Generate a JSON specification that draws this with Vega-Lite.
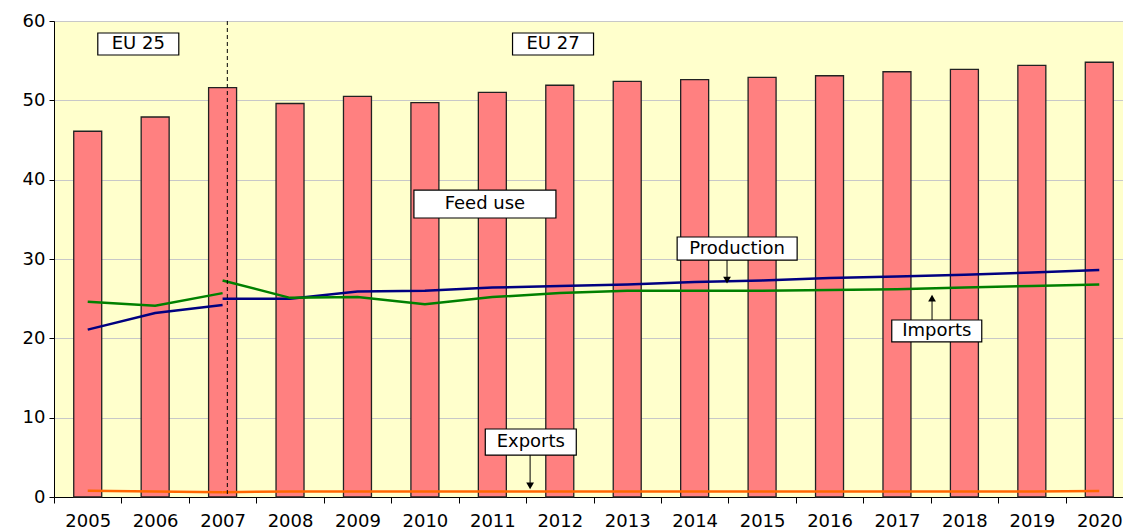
{
  "$schema": "https://vega.github.io/schema/vega-lite/v6.json",
  "width": 1069,
  "height": 476,
  "autosize": "none",
  "padding": {"left": 54, "top": 21, "right": 0, "bottom": 34},
  "background": "white",
  "config": {
    "font": "DejaVu Sans",
    "view": {"fill": "#FFFFCC", "stroke": "#999999", "strokeWidth": 1},
    "axis": {"labelFont": "DejaVu Sans", "labelColor": "black", "labelFontSize": 18, "domainColor": "black", "tickColor": "black", "title": null}
  },
  "datasets": {
    "feed": [
      {"year": 2005, "feed": 46.1}, {"year": 2006, "feed": 47.9}, {"year": 2007, "feed": 51.6},
      {"year": 2008, "feed": 49.6}, {"year": 2009, "feed": 50.5}, {"year": 2010, "feed": 49.7},
      {"year": 2011, "feed": 51.0}, {"year": 2012, "feed": 51.9}, {"year": 2013, "feed": 52.4},
      {"year": 2014, "feed": 52.6}, {"year": 2015, "feed": 52.9}, {"year": 2016, "feed": 53.1},
      {"year": 2017, "feed": 53.6}, {"year": 2018, "feed": 53.9}, {"year": 2019, "feed": 54.4},
      {"year": 2020, "feed": 54.8}
    ],
    "lines": [
      {"year": 2005, "series": "Production", "region": "EU25", "value": 21.1},
      {"year": 2006, "series": "Production", "region": "EU25", "value": 23.2},
      {"year": 2007, "series": "Production", "region": "EU25", "value": 24.2},
      {"year": 2005, "series": "Imports", "region": "EU25", "value": 24.6},
      {"year": 2006, "series": "Imports", "region": "EU25", "value": 24.1},
      {"year": 2007, "series": "Imports", "region": "EU25", "value": 25.7},
      {"year": 2005, "series": "Exports", "region": "EU25", "value": 0.8},
      {"year": 2006, "series": "Exports", "region": "EU25", "value": 0.7},
      {"year": 2007, "series": "Exports", "region": "EU25", "value": 0.6},
      {"year": 2007, "series": "Production", "region": "EU27", "value": 25.0},
      {"year": 2008, "series": "Production", "region": "EU27", "value": 25.0},
      {"year": 2009, "series": "Production", "region": "EU27", "value": 25.9},
      {"year": 2010, "series": "Production", "region": "EU27", "value": 26.0},
      {"year": 2011, "series": "Production", "region": "EU27", "value": 26.4},
      {"year": 2012, "series": "Production", "region": "EU27", "value": 26.6},
      {"year": 2013, "series": "Production", "region": "EU27", "value": 26.8},
      {"year": 2014, "series": "Production", "region": "EU27", "value": 27.1},
      {"year": 2015, "series": "Production", "region": "EU27", "value": 27.3},
      {"year": 2016, "series": "Production", "region": "EU27", "value": 27.6},
      {"year": 2017, "series": "Production", "region": "EU27", "value": 27.8},
      {"year": 2018, "series": "Production", "region": "EU27", "value": 28.0},
      {"year": 2019, "series": "Production", "region": "EU27", "value": 28.3},
      {"year": 2020, "series": "Production", "region": "EU27", "value": 28.6},
      {"year": 2007, "series": "Imports", "region": "EU27", "value": 27.3},
      {"year": 2008, "series": "Imports", "region": "EU27", "value": 25.1},
      {"year": 2009, "series": "Imports", "region": "EU27", "value": 25.2},
      {"year": 2010, "series": "Imports", "region": "EU27", "value": 24.3},
      {"year": 2011, "series": "Imports", "region": "EU27", "value": 25.2},
      {"year": 2012, "series": "Imports", "region": "EU27", "value": 25.7},
      {"year": 2013, "series": "Imports", "region": "EU27", "value": 26.0},
      {"year": 2014, "series": "Imports", "region": "EU27", "value": 26.0},
      {"year": 2015, "series": "Imports", "region": "EU27", "value": 26.0},
      {"year": 2016, "series": "Imports", "region": "EU27", "value": 26.1},
      {"year": 2017, "series": "Imports", "region": "EU27", "value": 26.2},
      {"year": 2018, "series": "Imports", "region": "EU27", "value": 26.4},
      {"year": 2019, "series": "Imports", "region": "EU27", "value": 26.6},
      {"year": 2020, "series": "Imports", "region": "EU27", "value": 26.8},
      {"year": 2007, "series": "Exports", "region": "EU27", "value": 0.6},
      {"year": 2008, "series": "Exports", "region": "EU27", "value": 0.7},
      {"year": 2009, "series": "Exports", "region": "EU27", "value": 0.7},
      {"year": 2010, "series": "Exports", "region": "EU27", "value": 0.7},
      {"year": 2011, "series": "Exports", "region": "EU27", "value": 0.7},
      {"year": 2012, "series": "Exports", "region": "EU27", "value": 0.7},
      {"year": 2013, "series": "Exports", "region": "EU27", "value": 0.7},
      {"year": 2014, "series": "Exports", "region": "EU27", "value": 0.7},
      {"year": 2015, "series": "Exports", "region": "EU27", "value": 0.7},
      {"year": 2016, "series": "Exports", "region": "EU27", "value": 0.7},
      {"year": 2017, "series": "Exports", "region": "EU27", "value": 0.7},
      {"year": 2018, "series": "Exports", "region": "EU27", "value": 0.7},
      {"year": 2019, "series": "Exports", "region": "EU27", "value": 0.7},
      {"year": 2020, "series": "Exports", "region": "EU27", "value": 0.75}
    ],
    "divider": [{"year": 2007.07}],
    "labels": [
      {"label": "EU 25", "year": 2005.75, "value": 57.1},
      {"label": "EU 27", "year": 2011.9, "value": 57.1},
      {"label": "Feed use", "year": 2010.89, "value": 36.93},
      {"label": "Production", "year": 2014.63, "value": 31.32},
      {"label": "Imports", "year": 2017.59, "value": 20.93},
      {"label": "Exports", "year": 2011.57, "value": 6.93}
    ],
    "arrows": [
      {"target": "Production", "year": 2014.48, "start": 29.87, "end": 27.35},
      {"target": "Imports", "year": 2017.52, "start": 22.31, "end": 25.08},
      {"target": "Exports", "year": 2011.56, "start": 5.29, "end": 1.39}
    ]
  },
  "layer": [
    {
      "layer": [
        {
          "data": {"name": "feed"},
          "mark": {"type": "bar", "width": {"band": 0.415}, "fill": "#FF8080", "stroke": "#222222", "strokeWidth": 1.3},
          "encoding": {
            "x": {
              "field": "year", "type": "ordinal",
              "scale": {"range": [0, 1079], "paddingInner": 0, "paddingOuter": 0},
              "axis": {"tickBand": "extent", "labelAngle": 0, "tickSize": 6, "labelPadding": 9, "grid": false}
            },
            "y": {
              "field": "feed", "type": "quantitative",
              "scale": {"domain": [0, 60], "nice": false},
              "axis": {"values": [0, 10, 20, 30, 40, 50, 60], "grid": true, "gridColor": "#C8C8C8", "tickSize": 5, "labelPadding": 4}
            }
          }
        },
        {
          "data": {"name": "lines"},
          "mark": {"type": "line", "strokeWidth": 2.5},
          "encoding": {
            "x": {"field": "year", "type": "ordinal"},
            "y": {"field": "value", "type": "quantitative"},
            "color": {"field": "series", "type": "nominal", "scale": {"domain": ["Production", "Imports", "Exports"], "range": ["#000080", "#008000", "#FF6600"]}, "legend": null},
            "detail": {"field": "region"}
          }
        }
      ]
    },
    {
      "layer": [
        {
          "data": {"name": "divider"},
          "mark": {"type": "rule", "color": "black", "strokeWidth": 1, "strokeDash": [4, 3]},
          "encoding": {
            "x": {"field": "year", "type": "quantitative", "scale": {"domain": [2004.5, 2020.5], "range": [0, 1079], "nice": false, "zero": false}, "axis": null}
          }
        },
        {
          "data": {"name": "arrows"},
          "mark": {"type": "rule", "color": "black", "strokeWidth": 1},
          "encoding": {
            "x": {"field": "year", "type": "quantitative"},
            "y": {"field": "start", "type": "quantitative"},
            "y2": {"field": "end"}
          }
        },
        {
          "data": {"name": "arrows"},
          "transform": [{"filter": "datum.target !== 'Imports'"}],
          "mark": {"type": "point", "shape": "triangle-down", "size": 60, "filled": true, "color": "black", "opacity": 1},
          "encoding": {
            "x": {"field": "year", "type": "quantitative"},
            "y": {"field": "end", "type": "quantitative"}
          }
        },
        {
          "data": {"name": "arrows"},
          "transform": [{"filter": "datum.target === 'Imports'"}],
          "mark": {"type": "point", "shape": "triangle-up", "size": 60, "filled": true, "color": "black", "opacity": 1},
          "encoding": {
            "x": {"field": "year", "type": "quantitative"},
            "y": {"field": "end", "type": "quantitative"}
          }
        },
        {
          "data": {"name": "labels"},
          "transform": [{"filter": "datum.label === 'EU 25' || datum.label === 'EU 27'"}],
          "mark": {"type": "point", "shape": "M-1,-0.272L1,-0.272L1,0.272L-1,0.272Z", "size": 6561, "filled": true, "fill": "white", "stroke": "black", "strokeWidth": 1.2, "opacity": 1},
          "encoding": {"x": {"field": "year", "type": "quantitative"}, "y": {"field": "value", "type": "quantitative"}}
        },
        {
          "data": {"name": "labels"},
          "transform": [{"filter": "datum.label === 'Feed use'"}],
          "mark": {"type": "point", "shape": "M-1,-0.197L1,-0.197L1,0.197L-1,0.197Z", "size": 20164, "filled": true, "fill": "white", "stroke": "black", "strokeWidth": 1.2, "opacity": 1},
          "encoding": {"x": {"field": "year", "type": "quantitative"}, "y": {"field": "value", "type": "quantitative"}}
        },
        {
          "data": {"name": "labels"},
          "transform": [{"filter": "datum.label === 'Production'"}],
          "mark": {"type": "point", "shape": "M-1,-0.192L1,-0.192L1,0.192L-1,0.192Z", "size": 14400, "filled": true, "fill": "white", "stroke": "black", "strokeWidth": 1.2, "opacity": 1},
          "encoding": {"x": {"field": "year", "type": "quantitative"}, "y": {"field": "value", "type": "quantitative"}}
        },
        {
          "data": {"name": "labels"},
          "transform": [{"filter": "datum.label === 'Imports'"}],
          "mark": {"type": "point", "shape": "M-1,-0.244L1,-0.244L1,0.244L-1,0.244Z", "size": 8100, "filled": true, "fill": "white", "stroke": "black", "strokeWidth": 1.2, "opacity": 1},
          "encoding": {"x": {"field": "year", "type": "quantitative"}, "y": {"field": "value", "type": "quantitative"}}
        },
        {
          "data": {"name": "labels"},
          "transform": [{"filter": "datum.label === 'Exports'"}],
          "mark": {"type": "point", "shape": "M-1,-0.286L1,-0.286L1,0.286L-1,0.286Z", "size": 8281, "filled": true, "fill": "white", "stroke": "black", "strokeWidth": 1.2, "opacity": 1},
          "encoding": {"x": {"field": "year", "type": "quantitative"}, "y": {"field": "value", "type": "quantitative"}}
        },
        {
          "data": {"name": "labels"},
          "mark": {"type": "text", "font": "DejaVu Sans", "fontSize": 18, "color": "black", "align": "center", "baseline": "middle"},
          "encoding": {
            "x": {"field": "year", "type": "quantitative"},
            "y": {"field": "value", "type": "quantitative"},
            "text": {"field": "label"}
          }
        }
      ]
    }
  ],
  "resolve": {"scale": {"x": "independent"}, "axis": {"x": "independent"}}
}
